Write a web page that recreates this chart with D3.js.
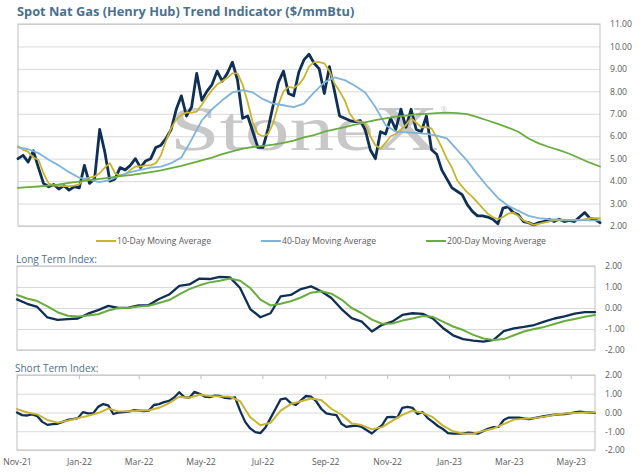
<!DOCTYPE html>
<html>
<head>
<meta charset="utf-8">
<script src="https://cdn.jsdelivr.net/npm/d3@7"></script>
<style>
  body { margin: 0; background: #fff; }
  svg { display: block; font-family: 'Open Sans', sans-serif; }
</style>
</head>
<body>
<svg id="chart" width="639" height="475"></svg>
<script>
// series start date and sampling steps (days)
const startDate = new Date(2021, 10, 1);
const endDay = 570;

// Spot price, every 5 days ($/mmBtu)
const spotPrice = [5.0, 5.15, 4.85, 5.35, 4.6, 3.9, 3.75, 3.85, 3.65, 3.8,
  3.6, 3.75, 3.7, 4.7, 3.9, 4.1, 6.3, 5.3, 4.0, 4.1,
  4.6, 4.5, 4.7, 5.0, 4.6, 4.9, 5.0, 5.5, 5.6, 5.9,
  6.3, 7.2, 7.8, 6.9, 7.3, 8.8, 7.6, 8.0, 8.3, 8.9,
  8.45, 8.8, 9.3, 8.5, 6.8, 6.9, 6.2, 5.5, 5.5, 6.35,
  7.4, 8.4, 8.9, 7.9, 7.8, 8.85, 9.4, 9.65, 9.25, 9.0,
  7.9, 9.1, 8.0, 6.9, 6.8, 6.7, 6.65, 6.7, 6.3, 5.4,
  5.0, 6.2, 6.1, 6.8, 6.3, 7.2, 6.4, 7.2, 6.3, 6.2,
  6.9, 5.4, 5.2, 4.5, 4.1, 3.7, 3.55, 3.4, 2.95, 2.65,
  2.45, 2.45, 2.4, 2.3, 2.1, 2.8, 2.85, 2.6, 2.5, 2.2,
  2.15, 2.05, 2.15, 2.2, 2.3, 2.2, 2.3, 2.2, 2.25, 2.2,
  2.4, 2.6, 2.35, 2.3, 2.15];

// 10-Day moving average, every 5 days
const ma10 = [5.55, 5.4, 5.3, 5.05, 4.95, 4.35, 3.9, 3.8, 3.8, 3.78,
  3.78, 3.8, 3.85, 4.1, 4.15, 4.2, 4.35, 4.6, 4.8, 4.35,
  4.25, 4.3, 4.5, 4.65, 4.65, 4.7, 4.7, 4.8, 5.15, 5.8,
  6.35, 6.75, 6.95, 7.05, 7.05, 7.1, 7.4, 7.75, 8.05, 8.3,
  8.45, 8.6, 8.8, 8.8, 8.3, 7.5, 6.6, 6.1, 6.0, 6.1,
  6.6, 7.4, 8.0, 8.2, 8.15, 8.3, 8.6, 9.1, 9.3, 9.3,
  9.25, 8.9, 8.35, 8.0, 7.6, 7.0, 6.7, 6.65, 6.55, 6.0,
  5.6, 5.45, 5.7, 6.0, 6.1, 6.3, 6.5, 6.8, 6.6, 6.4,
  6.4, 6.35, 5.95, 5.5, 5.0, 4.6, 4.05, 3.75, 3.5, 3.3,
  3.05, 2.8, 2.55, 2.4, 2.3, 2.4, 2.55, 2.6, 2.45, 2.25,
  2.15, 2.05, 2.1, 2.15, 2.2, 2.25, 2.25, 2.25, 2.25, 2.25,
  2.25, 2.3, 2.35, 2.35, 2.35];

// 40-Day moving average, every 10 days
const ma40 = [5.5, 5.42, 5.25, 4.95, 4.7, 4.4, 4.15, 4.05, 3.95, 4.05,
  4.25, 4.4, 4.5, 4.6, 4.65, 4.8, 5.05, 5.85, 6.7, 7.2,
  7.6, 7.95, 8.05, 7.95, 7.65, 7.45, 7.38, 7.3, 7.45, 7.95,
  8.4, 8.62, 8.5, 8.25, 7.95, 7.3, 6.5, 6.2, 6.17, 6.15,
  6.1, 6.03, 5.9, 5.4, 4.9, 4.3, 3.75, 3.25, 2.9, 2.68,
  2.45, 2.35, 2.3, 2.28, 2.27, 2.26, 2.25, 2.25];

// 200-Day moving average, every 10 days
const ma200 = [3.7, 3.73, 3.76, 3.8, 3.85, 3.92, 3.98, 4.04, 4.1, 4.16,
  4.22, 4.27, 4.33, 4.4, 4.48, 4.58, 4.68, 4.8, 4.92, 5.05,
  5.2, 5.33, 5.45, 5.52, 5.57, 5.63, 5.7, 5.8, 5.95, 6.05,
  6.2, 6.3, 6.4, 6.52, 6.62, 6.72, 6.8, 6.87, 6.92, 6.97,
  7.0, 7.03, 7.05, 7.03, 6.98, 6.85, 6.7, 6.55, 6.38, 6.2,
  5.9, 5.68, 5.52, 5.38, 5.22, 5.02, 4.82, 4.65];

// Long term index and its average, every 10 days
const longIndex = [0.41, 0.2, 0.05, -0.45, -0.57, -0.53, -0.5, -0.27, -0.1, 0.1,
  0.0, 0.02, 0.12, 0.14, 0.43, 0.64, 1.05, 1.12, 1.4, 1.38,
  1.48, 1.46, 0.95, -0.05, -0.44, -0.25, 0.55, 0.62, 0.9, 1.03,
  0.8, 0.48, -0.05, -0.48, -0.65, -1.12, -0.8, -0.65, -0.33, -0.25,
  -0.28, -0.5, -0.95, -1.3, -1.48, -1.55, -1.6, -1.52, -1.1, -0.97,
  -0.9, -0.81, -0.65, -0.5, -0.4, -0.27, -0.2, -0.2];
const longAvg = [0.62, 0.45, 0.33, 0.08, -0.2, -0.37, -0.41, -0.36, -0.3, -0.12,
  0.0, 0.01, 0.07, 0.11, 0.24, 0.38, 0.65, 0.9, 1.08, 1.22,
  1.3, 1.4, 1.3, 0.95, 0.4, 0.12, 0.2, 0.32, 0.5, 0.73,
  0.8, 0.68, 0.4, 0.0, -0.25, -0.55, -0.75, -0.74, -0.6, -0.5,
  -0.38, -0.42, -0.65, -0.88, -1.05, -1.28, -1.45, -1.52, -1.48, -1.3,
  -1.12, -1.0, -0.9, -0.76, -0.62, -0.52, -0.42, -0.33];

// Short term index every 5 days, its average every 10 days
const shortIndex = [0.0, -0.14, -0.16, -0.1, -0.2, -0.5, -0.66, -0.62, -0.6, -0.5,
  -0.4, -0.35, -0.3, 0.02, -0.05, -0.05, 0.3, 0.45, 0.38, -0.08,
  0.0, 0.02, 0.05, 0.12, 0.1, 0.08, 0.1, 0.4, 0.45, 0.55,
  0.62, 0.8, 1.08, 0.82, 0.79, 1.1, 1.0, 0.85, 0.82, 0.9,
  0.88, 0.78, 0.75, 0.8, 0.1, -0.5, -0.85, -1.05, -1.1, -0.8,
  -0.3, 0.2, 0.7, 0.75, 0.5, 0.4, 0.65, 0.88, 0.85, 0.6,
  0.2, -0.05, -0.1, -0.14, -0.6, -0.77, -0.72, -0.7, -0.77, -0.95,
  -1.12, -0.88, -0.68, -0.25, -0.23, -0.28, 0.25, 0.3, 0.25, -0.08,
  0.02, -0.3, -0.5, -0.72, -0.88, -1.1, -1.13, -1.13, -1.13, -1.08,
  -1.1, -1.12, -0.98, -0.86, -0.78, -0.77, -0.4, -0.27, -0.27, -0.28,
  -0.32, -0.35, -0.3, -0.25, -0.2, -0.15, -0.12, -0.1, -0.08, -0.05,
  0.0, 0.05, 0.02, 0.0, -0.02];
const shortAvg = [0.18, 0.0, -0.1, -0.4, -0.54, -0.44, -0.3, -0.18, -0.03, 0.21,
  0.06, 0.07, 0.09, 0.12, 0.25, 0.5, 0.84, 0.79, 0.95, 0.88,
  0.86, 0.84, 0.6, -0.25, -0.68, -0.55, 0.1, 0.45, 0.6, 0.75,
  0.67, 0.2, -0.12, -0.58, -0.67, -0.9, -0.78, -0.45, -0.13, 0.1,
  -0.02, -0.25, -0.7, -1.0, -1.13, -1.12, -0.98, -0.85, -0.62, -0.38,
  -0.33, -0.3, -0.22, -0.12, -0.05, -0.03, 0.0, 0.0];

const priceTicks = [2, 3, 4, 5, 6, 7, 8, 9, 10, 11];
const indexTicks = [-2, -1, 0, 1, 2];
const monthLabels = ['Nov-21', 'Jan-22', 'Mar-22', 'May-22', 'Jul-22', 'Sep-22',
  'Nov-22', 'Jan-23', 'Mar-23', 'May-23'];
const legendNames = ['10-Day Moving Average', '40-Day Moving Average', '200-Day Moving Average'];

const navy = '#0f2f55', gold = '#c9b42f', blue = '#7fb3dc', green = '#68ad3e';
const gridColor = '#d9d9d9', borderColor = '#bfbfbf', labelColor = '#595959', titleColor = '#4a7090';

const svg = d3.select('#chart');
const toPoints = (values, step) => values.map((v, i) => ({ date: d3.timeDay.offset(startDate, i * step), value: v }));
const fmt = d => d3.format('.2f')(d).replace('\u2212', '-');
const parseMonth = d3.timeParse('%b-%y');
const endDate = d3.timeDay.offset(startDate, endDay);

// Panels: plot area boxes
const priceBox = { x0: 18, x1: 600, y0: 24, y1: 226 };
const longBox = { x0: 17, x1: 595, y0: 266, y1: 350 };
const shortBox = { x0: 17, x1: 595, y0: 375, y1: 450 };

const xTop = d3.scaleTime().domain([startDate, endDate]).range([priceBox.x0, priceBox.x1]);
const xLow = d3.scaleTime().domain([startDate, endDate]).range([longBox.x0, longBox.x1]);
const yTop = d3.scaleLinear().domain([2, 11]).range([priceBox.y1, priceBox.y0]);
const yMid = d3.scaleLinear().domain([-2, 2]).range([longBox.y1, longBox.y0]);
const yBot = d3.scaleLinear().domain([-2, 2]).range([shortBox.y1, shortBox.y0]);

// Title
svg.append('text')
  .attr('x', 17).attr('y', 16)
  .attr('font-size', 12.8).attr('font-weight', 'bold')
  .attr('fill', titleColor)
  .text('Spot Nat Gas (Henry Hub) Trend Indicator ($/mmBtu)');

function drawFrame(box, y, ticks, labelX) {
  // gridlines
  svg.append('g')
    .attr('transform', `translate(${box.x0},0)`)
    .call(d3.axisLeft(y).tickValues(ticks).tickSize(-(box.x1 - box.x0)).tickFormat(''))
    .call(g => g.select('.domain').remove())
    .call(g => g.selectAll('line').attr('stroke', gridColor).attr('stroke-width', 1));
  // border
  svg.append('rect')
    .attr('x', box.x0).attr('y', box.y0)
    .attr('width', box.x1 - box.x0).attr('height', box.y1 - box.y0)
    .attr('fill', 'none').attr('stroke', borderColor).attr('stroke-width', 1);
  // right axis labels
  svg.append('g')
    .attr('transform', `translate(${box.x1},0)`)
    .call(d3.axisRight(y).tickValues(ticks).tickSize(0).tickPadding(labelX).tickFormat(fmt))
    .call(g => g.select('.domain').remove())
    .call(g => g.selectAll('text')
      .attr('font-family', "'Open Sans', sans-serif")
      .attr('font-size', 8.6).attr('fill', labelColor));
}

function drawLine(data, x, y, color, width) {
  svg.append('path')
    .datum(data)
    .attr('fill', 'none')
    .attr('stroke', color)
    .attr('stroke-width', width)
    .attr('stroke-linejoin', 'round')
    .attr('stroke-linecap', 'round')
    .attr('d', d3.line().x(d => x(d.date)).y(d => y(d.value)));
}

// ---- price panel ----
drawFrame(priceBox, yTop, priceTicks, 10);

// watermark, stretched wide like the logo
const wm = svg.append('g').attr('fill', '#c8c8c8');
wm.append('text')
  .attr('transform', 'translate(170,150) scale(1.4,1)')
  .style('font-family', "'Liberation Serif', 'DejaVu Serif', serif")
  .attr('font-size', 64)
  .text('StoneX');
wm.append('text')
  .attr('x', 441).attr('y', 112)
  .attr('font-size', 7)
  .text('\u00ae');

drawLine(toPoints(spotPrice, 5), xTop, yTop, navy, 2.8);
drawLine(toPoints(ma10, 5), xTop, yTop, gold, 1.8);
drawLine(toPoints(ma40, 10), xTop, yTop, blue, 1.8);
drawLine(toPoints(ma200, 10), xTop, yTop, green, 1.8);

// legend
const legendX = [96, 261, 426];
const legendColors = [gold, blue, green];
legendNames.forEach((name, i) => {
  svg.append('line')
    .attr('x1', legendX[i]).attr('x2', legendX[i] + 20)
    .attr('y1', 241).attr('y2', 241)
    .attr('stroke', legendColors[i]).attr('stroke-width', 2);
  svg.append('text')
    .attr('x', legendX[i] + 21).attr('y', 244)
    .attr('font-size', 8.6).attr('fill', labelColor)
    .text(name);
});

// ---- long term panel ----
svg.append('text')
  .attr('x', 16).attr('y', 263)
  .attr('font-size', 10).attr('fill', titleColor)
  .text('Long Term Index:');
drawFrame(longBox, yMid, indexTicks, 10);
drawLine(toPoints(longIndex, 10), xLow, yMid, navy, 2.3);
drawLine(toPoints(longAvg, 10), xLow, yMid, green, 2);

// ---- short term panel ----
svg.append('text')
  .attr('x', 15).attr('y', 372)
  .attr('font-size', 10).attr('fill', titleColor)
  .text('Short Term Index:');
drawFrame(shortBox, yBot, indexTicks, 10);

// month ticks along top edge of the short term panel
const monthDates = monthLabels.map(parseMonth);
svg.append('g')
  .attr('transform', `translate(0,${shortBox.y0})`)
  .call(d3.axisBottom(xLow).tickValues(monthDates).tickSize(4).tickFormat(''))
  .call(g => g.select('.domain').remove())
  .call(g => g.selectAll('line').attr('stroke', borderColor));

drawLine(toPoints(shortIndex, 5), xLow, yBot, navy, 2.3);
drawLine(toPoints(shortAvg, 10), xLow, yBot, gold, 2);

// month labels under the short term panel
svg.append('g')
  .attr('transform', `translate(0,${shortBox.y1})`)
  .call(d3.axisBottom(xLow).tickValues(monthDates).tickSize(0).tickPadding(9)
    .tickFormat((d, i) => monthLabels[i]))
  .call(g => g.select('.domain').remove())
  .call(g => g.selectAll('text')
    .attr('font-family', "'Open Sans', sans-serif")
    .attr('font-size', 8.6).attr('fill', labelColor));
</script>
</body>
</html>
